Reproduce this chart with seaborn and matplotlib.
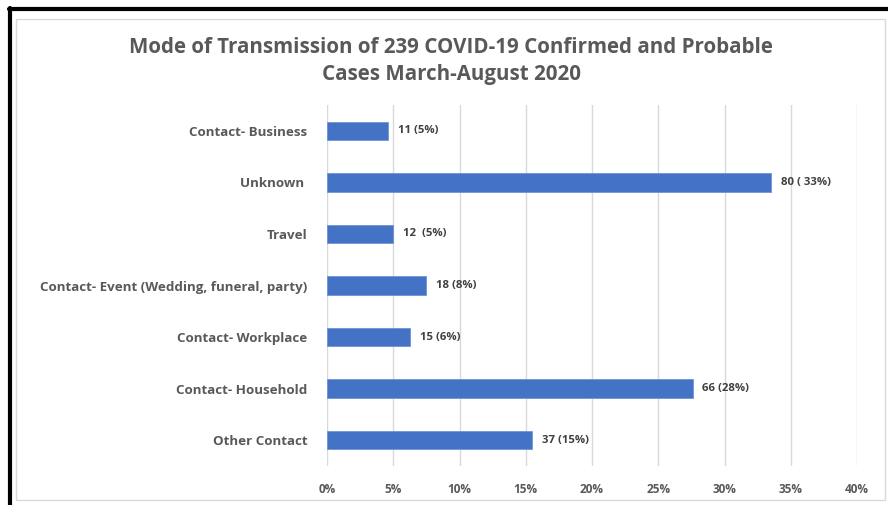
import numpy as np
import pandas as pd
import matplotlib
matplotlib.use("Agg")
import matplotlib.pyplot as plt
from matplotlib.ticker import PercentFormatter
from matplotlib.patches import Rectangle
from matplotlib.lines import Line2D
import seaborn as sns

# Data
categories = ["Contact- Business", "Unknown ", "Travel",
              "Contact- Event (Wedding, funeral, party)",
              "Contact- Workplace", "Contact- Household", "Other Contact"]
percent_values = [4.6, 33.5, 5.0, 7.5, 6.3, 27.6, 15.5]
bar_labels = ["11 (5%)", "80 ( 33%)", "12  (5%)", "18 (8%)",
              "15 (6%)", "66 (28%)", "37 (15%)"]
x_ticks = [0, 5, 10, 15, 20, 25, 30, 35, 40]

df = pd.DataFrame({"category": categories, "percent": percent_values})

sns.set_theme(style="white")
plt.rcParams['font.family'] = ['Open Sans', 'DejaVu Sans']

fig = plt.figure(figsize=(8.88, 5.05), dpi=100)
ax = fig.add_axes([327/888, 1 - 466/505, 530/888, 361/505])

sns.barplot(data=df, x="percent", y="category", orient="h", color="#4472C4",
            width=0.36, saturation=1, edgecolor="#6F94D6", linewidth=0.6,
            ax=ax, zorder=3)

# labels next to the bars
ax.bar_label(ax.containers[0], labels=bar_labels, padding=7,
             fontsize=8.2, fontweight="bold", color="#404040")

ax.set_xlim(0, 40)
ax.set_xticks(x_ticks)
ax.xaxis.set_major_formatter(PercentFormatter(decimals=0))
ax.grid(axis="x", color="#D9D9D9", linewidth=1, zorder=0)
ax.set_xlabel("")
ax.set_ylabel("")
for s in ax.spines.values():
    s.set_visible(False)
ax.tick_params(axis="x", length=0, pad=12, labelsize=8.5, labelcolor="#595959")
ax.tick_params(axis="y", length=0, pad=14, labelsize=9.6, labelcolor="#595959")
for t in ax.get_xticklabels() + ax.get_yticklabels():
    t.set_fontweight("bold")

fig.text(451/888, 1 - 61/505,
         "Mode of Transmission of 239 COVID-19 Confirmed and Probable\nCases March-August 2020",
         ha="center", va="center", fontsize=14.8, fontweight="bold",
         color="#595959", linespacing=1.35)

# chart frame and the dark border from the screenshot
fig.add_artist(Rectangle((16/888, 1 - 500/505), 869/888, 481/505,
                         transform=fig.transFigure, fill=False,
                         edgecolor="#D9D9D9", linewidth=1))
fig.add_artist(Line2D([9/888, 1], [1 - 8.5/505, 1 - 8.5/505],
                      transform=fig.transFigure, color="black", linewidth=3))
fig.add_artist(Line2D([10/888, 10/888], [0, 1 - 7.5/505],
                      transform=fig.transFigure, color="black", linewidth=3))

plt.savefig("out.png", dpi=100)
